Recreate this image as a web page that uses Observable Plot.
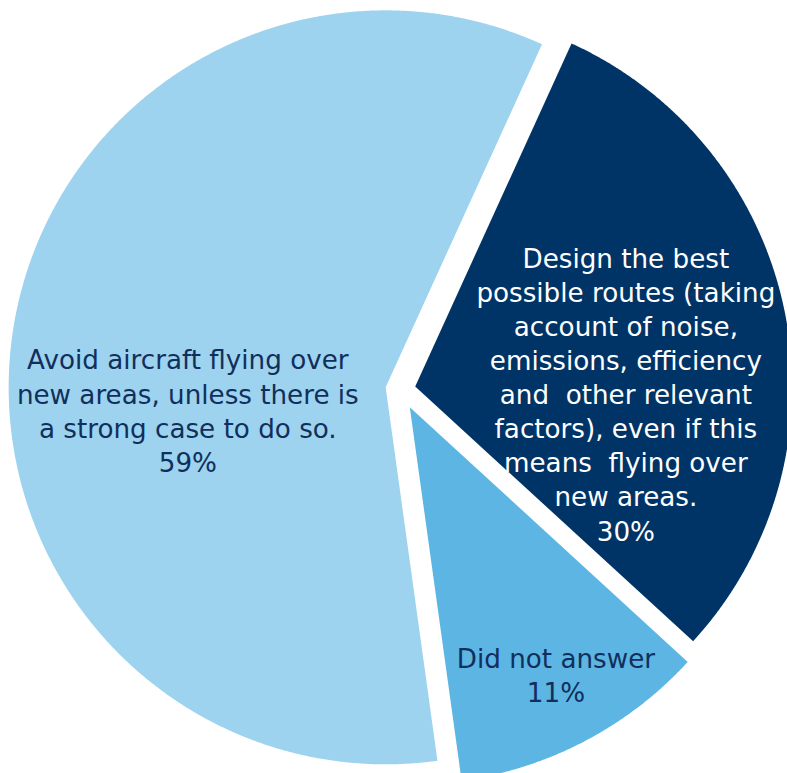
<!DOCTYPE html>
<html><head><meta charset="utf-8">
<script src="https://cdn.jsdelivr.net/npm/d3@7"></script>
<script src="https://cdn.jsdelivr.net/npm/@observablehq/plot@0.6"></script>
<style>html,body{margin:0;padding:0;overflow:hidden;background:#fff}#chart svg{display:block}</style>
</head><body><div id="chart"></div>
<script>
// ---- data ----
const categories = ["Design the best routes", "Did not answer", "Avoid flying over new areas"];
const labels = [
  "Design the best\npossible routes (taking\naccount of noise,\nemissions, efficiency\nand  other relevant\nfactors), even if this\nmeans  flying over\nnew areas.\n30%",
  "Did not answer\n11%",
  "Avoid aircraft flying over\nnew areas, unless there is\na strong case to do so.\n59%"
];
const values = [30, 11, 59];
const colors = ["#003466", "#5DB5E3", "#9DD3EE"];
const textColors = ["#ffffff", "#112F5C", "#112F5C"];

// ---- layout ----
const W = 787, H = 773;
const cx = 400, cy = 389, R = 377, start = 24.5 * Math.PI / 180;
const explode = [15, 20, 15];
const total = d3.sum(values);
let acc = start;
const slices = values.map((v, i) => {
  const a0 = acc; acc += v / total * 2 * Math.PI;
  const mid = (a0 + acc) / 2;
  return {i, cat: categories[i], label: labels[i], a0, a1: acc, mid,
    ox: cx + explode[i] * Math.sin(mid), oy: cy - explode[i] * Math.cos(mid)};
});
const pts = [];
for (const s of slices) {
  pts.push({cat: s.cat, x: s.ox, y: s.oy});
  const n = Math.ceil((s.a1 - s.a0) / (Math.PI / 720));
  for (let k = 0; k <= n; k++) {
    const t = s.a0 + (s.a1 - s.a0) * k / n;
    pts.push({cat: s.cat, x: s.ox + R * Math.sin(t), y: s.oy - R * Math.cos(t)});
  }
  pts.push({cat: s.cat, x: s.ox, y: s.oy});
}
const anchor = s => ({...s, lx: s.ox + 0.6 * R * Math.sin(s.mid), ly: s.oy - 0.6 * R * Math.cos(s.mid)});
const labelShift = [[-11, 52], [41, 67], [26, 55]];

const textMark = (i) => Plot.text([anchor(slices[i])], {
  x: "lx", y: "ly", text: "label", fill: textColors[i],
  dx: labelShift[i][0], dy: labelShift[i][1],
  fontSize: 26.2, lineHeight: 1.3, fontFamily: "DejaVu Sans", textAnchor: "middle"
});

const chart = Plot.plot({
  width: W, height: H,
  margin: 0,
  x: {domain: [0, W], range: [0, W], axis: null},
  y: {domain: [0, H], range: [0, H], axis: null},
  color: {domain: categories, range: colors},
  style: {background: "#fff", overflow: "hidden"},
  marks: [
    Plot.line(pts, {x: "x", y: "y", z: "cat", fill: "cat", stroke: null, clip: true, curve: "linear"}),
    textMark(0), textMark(1), textMark(2)
  ]
});
document.getElementById("chart").appendChild(chart);
</script>
</body></html>
